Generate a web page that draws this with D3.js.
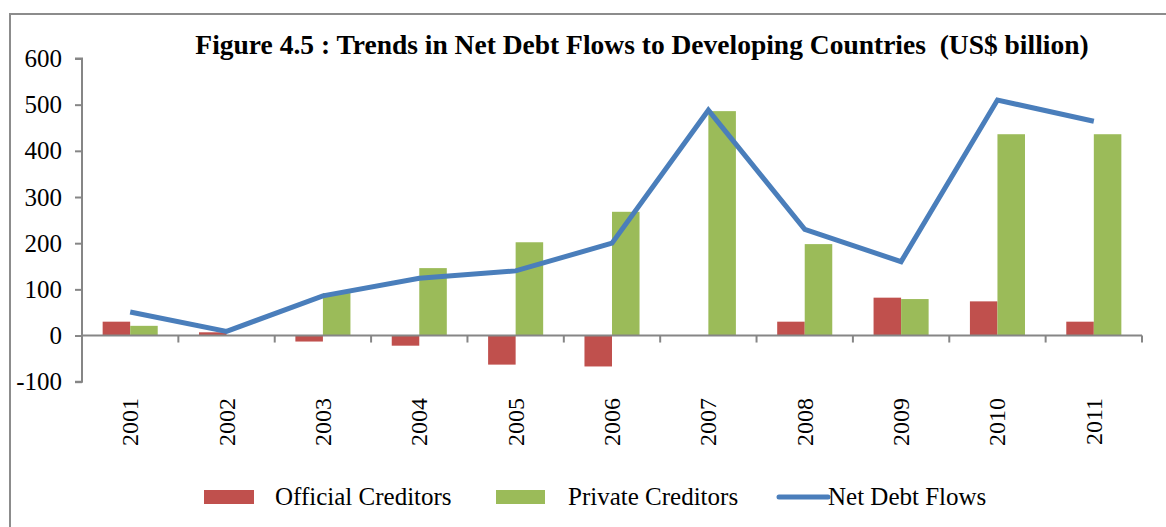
<!DOCTYPE html>
<html>
<head>
<meta charset="utf-8">
<script src="https://cdn.jsdelivr.net/npm/d3@7"></script>
<style>
  html, body { margin: 0; padding: 0; background: #fff; }
  svg { display: block; }
  text { font-family: "Liberation Serif", "Times New Roman", serif; fill: #000; }
</style>
</head>
<body>
<svg id="chart" width="1166" height="527"></svg>
<script>
// Net debt flows to developing countries, US$ billion
const years = ["2001", "2002", "2003", "2004", "2005", "2006", "2007", "2008", "2009", "2010", "2011"];
const official = [30, 7, -13, -22, -63, -67, 0, 30, 82, 74, 30];
const privateCred = [21, 0, 92, 146, 202, 268, 486, 198, 79, 436, 436];
const netFlows = [51, 9, 86, 124, 140, 200, 488, 230, 160, 510, 464];
const yTicks = [-100, 0, 100, 200, 300, 400, 500, 600];

const seriesNames = ["Official Creditors", "Private Creditors", "Net Debt Flows"];
const colors = { official: "#c0504d", private: "#9bbb59", net: "#4a7ebb" };

const svg = d3.select("#chart");

// Outer frame (open on the right and bottom)
svg.append("path")
  .attr("d", "M10,527 L10,14 L1166,14")
  .attr("fill", "none")
  .attr("stroke", "#8c8c8c")
  .attr("stroke-width", 2);

const plot = { left: 82, right: 1142, top: 58.5, bottom: 381.7 };

const x = d3.scaleBand().domain(years).range([plot.left, plot.right]).paddingInner(0).paddingOuter(0);
const y = d3.scaleLinear().domain([-100, 600]).range([plot.bottom, plot.top]);

// Bars: two per year, 150% gap width
const barW = x.bandwidth() / 3.5;
const xs = d3.scaleBand().domain(["official", "private"]).range([0, 2 * barW]);
const groupOffset = (x.bandwidth() - 2 * barW) / 2;

const g = svg.append("g");

g.selectAll("rect.official")
  .data(years.map((yr, i) => ({ yr, v: official[i] })))
  .join("rect")
  .attr("class", "official")
  .attr("x", d => x(d.yr) + groupOffset + xs("official"))
  .attr("width", xs.bandwidth())
  .attr("y", d => y(Math.max(0, d.v)))
  .attr("height", d => Math.abs(y(d.v) - y(0)))
  .attr("fill", colors.official);

g.selectAll("rect.private")
  .data(years.map((yr, i) => ({ yr, v: privateCred[i] })))
  .join("rect")
  .attr("class", "private")
  .attr("x", d => x(d.yr) + groupOffset + xs("private"))
  .attr("width", xs.bandwidth())
  .attr("y", d => y(Math.max(0, d.v)))
  .attr("height", d => Math.abs(y(d.v) - y(0)))
  .attr("fill", colors.private);

// Y axis
const yAxis = d3.axisLeft(y).tickValues(yTicks).tickSize(7).tickPadding(13).tickFormat(d => String(d));
const yAxisG = svg.append("g")
  .attr("transform", `translate(${plot.left},0)`)
  .call(yAxis);
yAxisG.select(".domain").attr("stroke", "#868686").attr("stroke-width", 2)
  .attr("d", `M-7,${plot.top}H0V${plot.bottom}H-7`);
yAxisG.selectAll(".tick line").attr("stroke", "#868686").attr("stroke-width", 2);
yAxisG.selectAll(".tick text")
  .attr("font-family", "Liberation Serif")
  .attr("font-size", 25)
  .attr("fill", "#000");

// X axis on the zero line
const xAxisG = svg.append("g")
  .attr("transform", `translate(0,${y(0)})`);
xAxisG.append("line")
  .attr("x1", plot.left).attr("x2", plot.right)
  .attr("stroke", "#868686").attr("stroke-width", 2);
const boundaries = years.map(yr => x(yr) + x.bandwidth());
xAxisG.selectAll("line.tick")
  .data(boundaries)
  .join("line")
  .attr("class", "tick")
  .attr("x1", d => d).attr("x2", d => d)
  .attr("y1", 0).attr("y2", 7)
  .attr("stroke", "#868686").attr("stroke-width", 2);

// Year labels, rotated, hanging below the plot
svg.append("g").selectAll("text")
  .data(years)
  .join("text")
  .attr("transform", d => `translate(${x(d) + x.bandwidth() / 2 + 8},398) rotate(-90)`)
  .attr("text-anchor", "end")
  .attr("font-size", 24)
  .text(d => d);

// Net debt flow line
const line = d3.line()
  .x((d, i) => x(years[i]) + x.bandwidth() / 2)
  .y(d => y(d));
svg.append("path")
  .datum(netFlows)
  .attr("d", line)
  .attr("fill", "none")
  .attr("stroke", colors.net)
  .attr("stroke-width", 5)
  .attr("stroke-linejoin", "miter");

// Title
svg.append("text")
  .attr("x", 642)
  .attr("y", 54)
  .attr("text-anchor", "middle")
  .attr("font-size", 27.5)
  .attr("font-weight", "bold")
  .attr("xml:space", "preserve")
  .text("Figure 4.5 : Trends in Net Debt Flows to Developing Countries  (US$ billion)");

// Legend
const legend = svg.append("g");
const ly = 497;
legend.append("rect").attr("x", 204).attr("y", ly - 7).attr("width", 50).attr("height", 14).attr("fill", colors.official);
legend.append("text").attr("x", 275).attr("y", ly + 8).attr("font-size", 25).text(seriesNames[0]);
legend.append("rect").attr("x", 496).attr("y", ly - 7).attr("width", 49).attr("height", 14).attr("fill", colors.private);
legend.append("text").attr("x", 568).attr("y", ly + 8).attr("font-size", 25).text(seriesNames[1]);
legend.append("line").attr("x1", 779).attr("x2", 828).attr("y1", ly).attr("y2", ly)
  .attr("stroke", colors.net).attr("stroke-width", 5).attr("stroke-linecap", "round");
legend.append("text").attr("x", 828).attr("y", ly + 8).attr("font-size", 25).text(seriesNames[2]);
</script>
</body>
</html>
